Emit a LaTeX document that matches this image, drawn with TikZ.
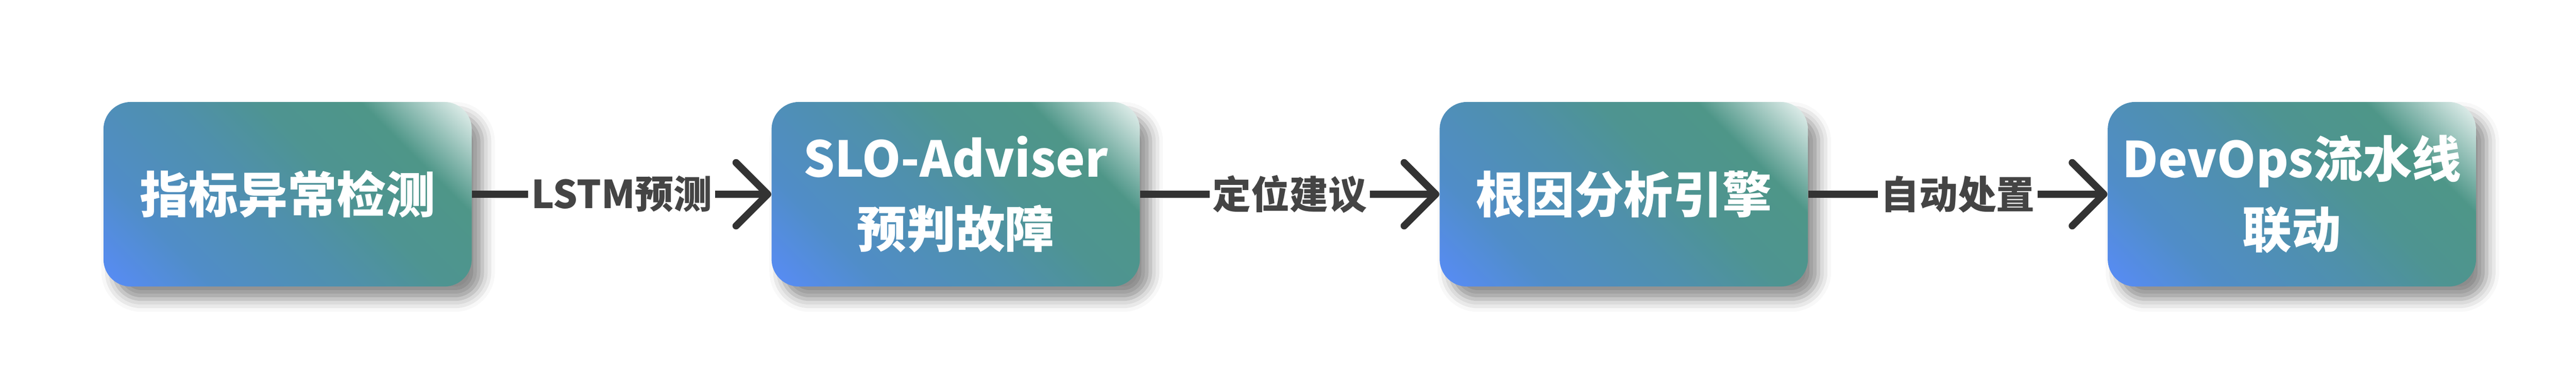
\documentclass[tikz,border=0pt]{standalone}
\usepackage{fontspec}
\setmainfont{Noto Sans CJK SC}
\usepackage{tikz}
\usetikzlibrary{arrows.meta,positioning,shadows.blur}

\definecolor{gA}{RGB}{88,140,248}
\definecolor{gB}{RGB}{80,141,200}
\definecolor{gC}{RGB}{79,144,172}
\definecolor{gD}{RGB}{78,148,145}
\definecolor{gE}{RGB}{78,150,136}
\definecolor{gF}{RGB}{238,246,244}
\definecolor{linegray}{RGB}{51,51,51}
\definecolor{lblgray}{RGB}{68,68,68}

\pgfdeclarehorizontalshading{boxgrad}{100bp}{color(0bp)=(gA); color(14.64bp)=(gA);
  color(28.78bp)=(gB); color(46.46bp)=(gC); color(58.49bp)=(gD);
  color(71.22bp)=(gE); color(85.36bp)=(gF); color(100bp)=(gF)}

\begin{document}
\begin{tikzpicture}
  [
   node distance=7.1cm,
   sn/.style={rectangle,rounded corners=0.65cm,minimum width=8.74cm,minimum height=4.38cm,
              shade,shading=boxgrad,shading angle=45,text=white,align=center,
              font=\bfseries\fontsize{33.3}{47.5}\selectfont,
              blur shadow={shadow xshift=0.25cm,shadow yshift=-0.3cm,shadow blur radius=0.3cm,shadow opacity=45}},
   ln/.style={fill=white,text=lblgray,inner xsep=2pt,inner ysep=1pt,font=\bfseries\fontsize{26}{30}\selectfont},
   conn/.style={line width=0.17cm,color=linegray,-{Straight Barb[length=0.75cm,width=1.5cm,round]}}
  ]
   \useasboundingbox (0,0) rectangle (61.13,9.25);

   \node[sn] (det) at (6.825,4.64) {指标异常检测};
   \node[sn] (slo) [right=of det] {SLO-Adviser\\预判故障};
   \node[sn] (rca) [right=of slo] {根因分析引擎};
   \node[sn] (ops) [right=of rca] {DevOps流水线\\联动};

   \draw[conn] (det) -- node[ln] {LSTM预测} (slo);
   \draw[conn] (slo) -- node[ln] {定位建议} (rca);
   \draw[conn] (rca) -- node[ln] {自动处置} (ops);

\end{tikzpicture}
\end{document}
